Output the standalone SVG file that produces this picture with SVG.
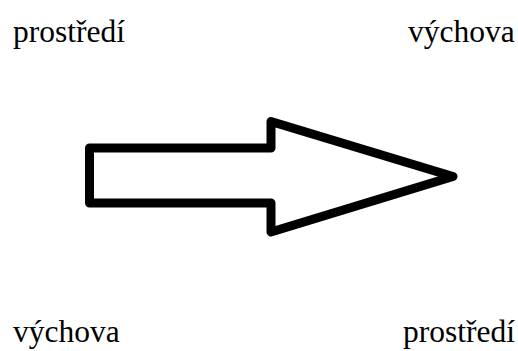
<svg xmlns="http://www.w3.org/2000/svg" width="518" height="351" viewBox="0 0 518 351">
<style>
.t{font-family:"Liberation Serif","Times New Roman",serif;font-size:31.5px;fill:#000}
.arrow{fill:#fff;stroke:#000;stroke-width:9;stroke-linejoin:round}
</style>
<rect width="518" height="351" fill="#fff"/>
<g id="label-top-left"><text class="t" x="13" y="41.5">prostředí</text></g>
<g id="label-top-right"><text class="t" x="408" y="41.5">výchova</text></g>
<g id="arrow"><path class="arrow" d="M89.5,148 L271,148 L271,121.5 L453,176.5 L271,232 L271,203 L89.5,203 Z"/></g>
<g id="label-bottom-left"><text class="t" x="13" y="342">výchova</text></g>
<g id="label-bottom-right"><text class="t" x="403" y="342">prostředí</text></g>
<g id="connectors"></g>
</svg>
